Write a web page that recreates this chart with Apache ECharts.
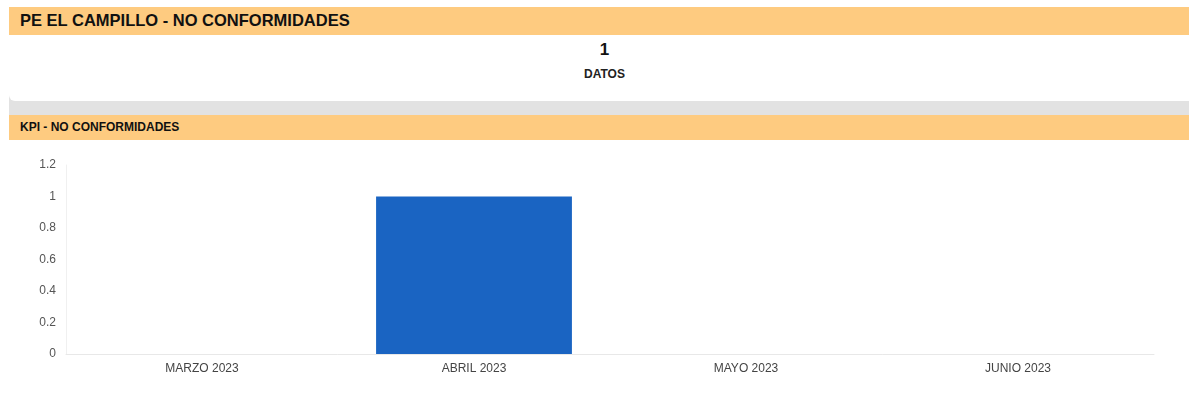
<!DOCTYPE html>
<html>
<head>
<meta charset="utf-8">
<script src="https://cdn.jsdelivr.net/npm/echarts@6/dist/echarts.min.js"></script>
<style>
  html, body { margin: 0; padding: 0; background: #fff; font-family: "Liberation Sans", Arial, sans-serif; }
  .wrap { position: relative; width: 1189px; height: 417px; overflow: hidden; }
  .gray { position: absolute; left: 9px; top: 90px; width: 1180px; height: 25px; background: #e2e2e2; }
  .head { position: absolute; left: 9px; top: 7px; width: 1180px; height: 28px; background: #fecb80; }
  .head span { position: absolute; left: 11px; top: 4px; font-size: 16.5px; font-weight: bold; color: #111; }
  .panel { position: absolute; left: 9px; top: 35px; width: 1180px; height: 66px; background: #fff; border-bottom-left-radius: 6px; }
  .big { position: absolute; left: 10px; width: 1189px; top: 40px; text-align: center; font-size: 17px; font-weight: bold; color: #111; }
  .lbl { position: absolute; left: 10px; width: 1189px; top: 67px; text-align: center; font-size: 12px; font-weight: bold; color: #222; }
  .sub { position: absolute; left: 9px; top: 115px; width: 1180px; height: 25px; background: #fecb80; }
  .sub span { position: absolute; left: 11px; top: 5px; font-size: 12px; font-weight: bold; color: #111; }
  #chart { position: absolute; left: 0; top: 140px; width: 1189px; height: 277px; }
</style>
</head>
<body>
<div class="wrap">
  <div class="gray"></div>
  <div class="head"><span>PE EL CAMPILLO - NO CONFORMIDADES</span></div>
  <div class="panel"></div>
  <div class="big">1</div>
  <div class="lbl">DATOS</div>
  <div class="sub"><span>KPI - NO CONFORMIDADES</span></div>
  <div id="chart"></div>
</div>
<script>
// datos del gráfico
var months = ["MARZO 2023", "ABRIL 2023", "MAYO 2023", "JUNIO 2023"];
var noConformidades = [0, 1, 0, 0];
var yTicks = [0, 0.2, 0.4, 0.6, 0.8, 1, 1.2];

var chart = echarts.init(document.getElementById("chart"));
chart.setOption({
  animation: false,
  textStyle: { fontFamily: "Liberation Sans, Arial, sans-serif" },
  grid: { left: 66, right: 35, top: 25, bottom: 63 },
  xAxis: {
    type: "category",
    data: months,
    axisLine: { lineStyle: { color: "#e8e8e8" } },
    axisTick: { show: false },
    axisLabel: { color: "#444", fontSize: 12, margin: 9 }
  },
  yAxis: {
    type: "value",
    min: yTicks[0],
    max: yTicks[yTicks.length - 1],
    interval: 0.2,
    axisLine: { show: true, lineStyle: { color: "#f0f0f0" } },
    splitLine: { show: false },
    axisTick: { show: false },
    axisLabel: { color: "#555", fontSize: 12, margin: 10 }
  },
  series: [{
    type: "bar",
    data: noConformidades,
    barWidth: "72%",
    itemStyle: { color: "#1a64c2" }
  }]
});
</script>
</body>
</html>
